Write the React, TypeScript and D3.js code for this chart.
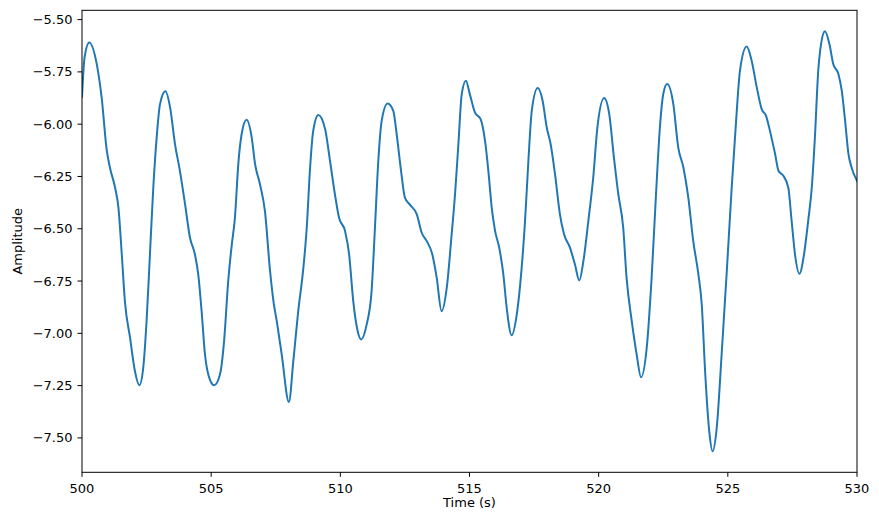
import React from "react";
import * as d3 from "d3";

const times = [
  500.0, 500.1, 500.28, 500.57, 500.76, 500.96, 501.08, 501.28, 501.41, 501.54, 501.66, 501.86, 502.05, 502.22,
  502.37, 502.5, 502.63, 502.76, 502.89, 503.02, 503.23, 503.41, 503.6, 503.79, 503.99, 504.18, 504.37, 504.5,
  504.63, 504.76, 504.95, 505.12, 505.34, 505.5, 505.66, 505.8, 505.92, 506.05, 506.18, 506.37, 506.57, 506.7,
  506.89, 507.08, 507.28, 507.41, 507.55, 507.73, 508.01, 508.18, 508.37, 508.57, 508.7, 508.83, 508.95, 509.15,
  509.41, 509.6, 509.79, 509.95, 510.18, 510.34, 510.5, 510.67, 510.8, 511.02, 511.21, 511.34, 511.47, 511.6,
  511.83, 512.05, 512.18, 512.35, 512.5, 512.7, 512.96, 513.15, 513.34, 513.56, 513.73, 513.92, 514.12, 514.31,
  514.44, 514.57, 514.7, 514.86, 515.02, 515.21, 515.43, 515.6, 515.73, 515.86, 515.99, 516.15, 516.31, 516.44,
  516.63, 516.83, 517.02, 517.15, 517.28, 517.41, 517.64, 517.83, 517.99, 518.14, 518.31, 518.5, 518.66, 518.89,
  519.08, 519.25, 519.41, 519.6, 519.79, 519.95, 520.21, 520.41, 520.59, 520.76, 520.95, 521.08, 521.28, 521.47,
  521.64, 521.86, 522.05, 522.22, 522.37, 522.5, 522.65, 522.89, 523.08, 523.28, 523.47, 523.66, 523.86, 523.99,
  524.12, 524.28, 524.41, 524.57, 524.76, 524.96, 525.15, 525.32, 525.47, 525.73, 525.92, 526.12, 526.31, 526.48,
  526.63, 526.83, 526.96, 527.15, 527.34, 527.47, 527.6, 527.77, 527.95, 528.11, 528.25, 528.37, 528.5, 528.61,
  528.76, 528.93, 529.08, 529.28, 529.41, 529.54, 529.67, 529.79, 530.0,
];

const amplitude = [
  -5.87, -5.68, -5.609, -5.712, -5.872, -6.127, -6.207, -6.303, -6.399, -6.622, -6.846, -7.021, -7.181, -7.248,
  -7.165, -6.941, -6.622, -6.303, -6.064, -5.904, -5.843, -5.92, -6.095, -6.223, -6.383, -6.543, -6.622, -6.718,
  -6.894, -7.101, -7.221, -7.248, -7.197, -7.037, -6.75, -6.574, -6.447, -6.191, -6.047, -5.979, -6.064, -6.191,
  -6.287, -6.415, -6.702, -6.846, -6.95, -7.101, -7.328, -7.133, -6.894, -6.686, -6.495, -6.207, -6.032, -5.956,
  -6.023, -6.175, -6.335, -6.447, -6.51, -6.622, -6.846, -6.989, -7.029, -6.957, -6.798, -6.495, -6.175, -5.984,
  -5.901, -5.936, -6.047, -6.223, -6.351, -6.386, -6.431, -6.519, -6.558, -6.622, -6.734, -6.894, -6.782, -6.526,
  -6.335, -6.095, -5.856, -5.792, -5.86, -5.944, -5.976, -6.079, -6.223, -6.399, -6.51, -6.59, -6.718, -6.878,
  -7.009, -6.909, -6.686, -6.463, -6.175, -5.936, -5.827, -5.888, -6.016, -6.095, -6.239, -6.431, -6.526, -6.59,
  -6.67, -6.747, -6.654, -6.463, -6.255, -6.016, -5.875, -5.952, -6.159, -6.335, -6.495, -6.734, -6.941, -7.101,
  -7.21, -7.069, -6.734, -6.335, -6.016, -5.856, -5.808, -5.904, -6.111, -6.207, -6.351, -6.558, -6.718, -6.862,
  -7.181, -7.468, -7.564, -7.452, -7.101, -6.702, -6.303, -5.984, -5.744, -5.629, -5.696, -5.824, -5.928, -5.96,
  -6.032, -6.143, -6.223, -6.247, -6.303, -6.463, -6.622, -6.715, -6.622, -6.463, -6.303, -6.064, -5.744, -5.616,
  -5.556, -5.616, -5.712, -5.76, -5.84, -5.984, -6.143, -6.207, -6.271,
];

const xTicks = [500, 505, 510, 515, 520, 525, 530];
const yTicks = [-7.5, -7.25, -7.0, -6.75, -6.5, -6.25, -6.0, -5.75, -5.5];

const W = 879;
const H = 525;
const L = 82;
const R = 857;
const T = 10.3;
const B = 472.3;
const FONT = "DejaVu Sans, sans-serif";
const FS = 13;

export default function App() {
  const x = d3.scaleLinear().domain([500, 530]).range([L, R]);
  const yMin = d3.min(amplitude)!;
  const yMax = d3.max(amplitude)!;
  const pad = (yMax - yMin) * 0.05;
  const y = d3.scaleLinear().domain([yMin - pad, yMax + pad]).range([B, T]);
  const pts: [number, number][] = times.map((t, i) => [t, amplitude[i]]);
  const line = d3
    .line<[number, number]>()
    .x((d) => x(d[0]))
    .y((d) => y(d[1]))
    .curve(d3.curveMonotoneX);
  const fmt = (v: number) => v.toFixed(2).replace("-", "\u2212");
  return (
    <svg
      width={W}
      height={H}
      style={{ position: "absolute", left: 0, top: 0, background: "#fff" }}
      fontFamily={FONT}
    >
      <rect x={0} y={0} width={W} height={H} fill="#fff" />
      <defs>
        <clipPath id="plotclip">
          <rect x={L} y={T} width={R - L} height={B - T} />
        </clipPath>
      </defs>
      <path
        d={line(pts) || ""}
        fill="none"
        stroke="#1f77b4"
        strokeWidth={2}
        strokeLinejoin="round"
        strokeLinecap="square"
        clipPath="url(#plotclip)"
      />
      <rect x={L} y={T} width={R - L} height={B - T} fill="none" stroke="#000" strokeWidth={1} />
      {xTicks.map((t) => (
        <g key={"x" + t}>
          <line x1={x(t)} x2={x(t)} y1={B} y2={B + 4.5} stroke="#000" strokeWidth={1} />
          <text x={x(t)} y={B + 20.5} textAnchor="middle" fontSize={FS} fill="#000">
            {t}
          </text>
        </g>
      ))}
      {yTicks.map((t) => (
        <g key={"y" + t}>
          <line x1={L - 4.5} x2={L} y1={y(t)} y2={y(t)} stroke="#000" strokeWidth={1} />
          <text x={L - 9.5} y={y(t)} textAnchor="end" dominantBaseline="central" fontSize={FS} fill="#000">
            {fmt(t)}
          </text>
        </g>
      ))}
      <text x={(L + R) / 2} y={B + 35} textAnchor="middle" fontSize={FS} fill="#000">
        Time (s)
      </text>
      <text
        transform={`translate(21.5,${(T + B) / 2}) rotate(-90)`}
        textAnchor="middle"
        fontSize={FS}
        fill="#000"
      >
        Amplitude
      </text>
    </svg>
  );
}
